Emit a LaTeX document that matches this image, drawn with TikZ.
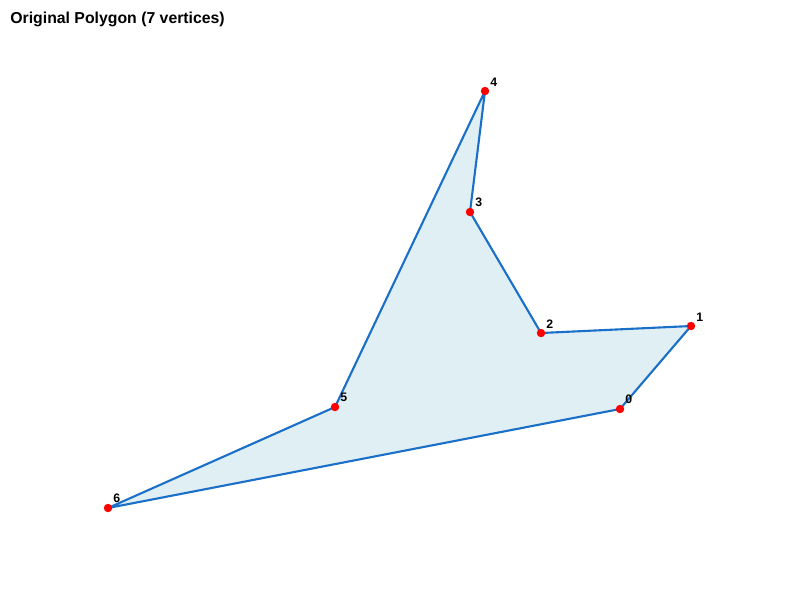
\documentclass[tikz,border=0pt]{standalone}
\usepackage{fontspec}
\setmainfont{Liberation Sans}
\usepackage{xcolor}
\usetikzlibrary{positioning}

\definecolor{edgeblue}{HTML}{1A6FC9}
\definecolor{fillblue}{HTML}{DFEFF4}

\tikzset{
  vert/.style={circle,fill=red,inner sep=0pt,minimum size=4.8pt},
  vlabel/.style={font=\fontsize{7}{8}\selectfont\bfseries,inner sep=0pt},
  polyedge/.style={draw=edgeblue,line width=1.2pt,line join=round}
}

\begin{document}
\begin{tikzpicture}[x=0.02cm,y=-0.02cm]
  \useasboundingbox (0,0) rectangle (800,600);
  \node[anchor=west,inner sep=0pt,font=\fontsize{9}{11}\selectfont\bfseries] (title) at (10,19) {Original Polygon (7 vertices)};
  % vertices
  \foreach \name/\px/\py in {p0/620/409, p1/691/326, p2/541/333, p3/470/212,
                             p4/485/91, p5/335/407, p6/108/508}
  {
    \coordinate (\name) at (\px,\py);
  }
  \fill[fillblue] (p0) -- (p1) -- (p2) -- (p3) -- (p4) -- (p5) -- (p6) -- cycle;
  \draw[polyedge] (p0) -- (p1) -- (p2) -- (p3) -- (p4) -- (p5) -- (p6) -- cycle;
  % dots and labels
  \foreach \i in {0,...,6}
  {
    \node[vert] (v\i) at (p\i) {};
    \node[vlabel,anchor=south west] (l\i) at ([xshift=2.8pt,yshift=2.6pt]p\i) {\i};
  }
\end{tikzpicture}
\end{document}
